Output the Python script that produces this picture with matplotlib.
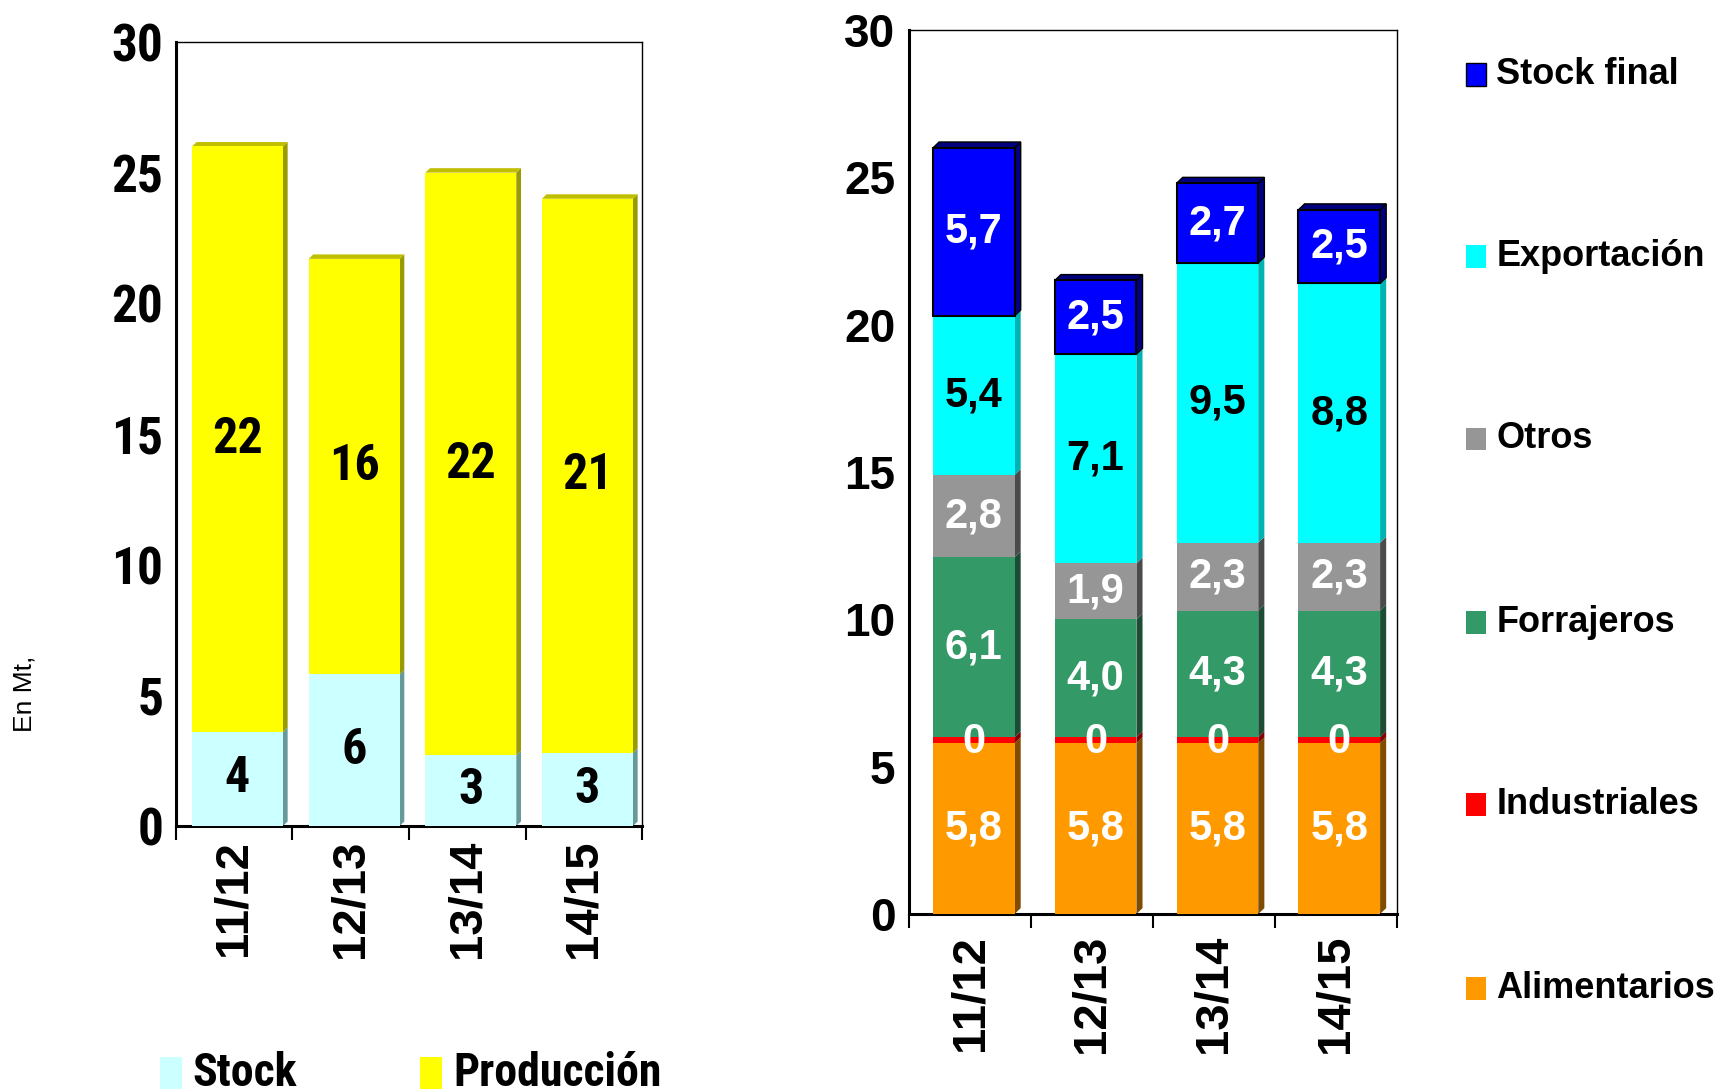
import matplotlib
matplotlib.use("Agg")
import matplotlib.pyplot as plt
from matplotlib.patches import Polygon, Rectangle
from matplotlib import font_manager
from matplotlib.font_manager import FontProperties

# datos
campanias = ['11/12', '12/13', '13/14', '14/15']

stock = [3.6, 5.8, 2.7, 2.8]
produccion = [22.4, 15.9, 22.3, 21.2]

alimentarios = [5.8, 5.8, 5.8, 5.8]
industriales = [0.2, 0.2, 0.2, 0.2]
forrajeros = [6.1, 4.0, 4.3, 4.3]
otros = [2.8, 1.9, 2.3, 2.3]
exportacion = [5.4, 7.1, 9.5, 8.8]
stock_final = [5.7, 2.5, 2.7, 2.5]

nombres_der = ['Alimentarios', 'Industriales', 'Forrajeros', 'Otros', 'Exportación', 'Stock final']

# fuentes: buscar alguna bold angosta, si no hay se achica el tamanio
WIDE = 'Liberation Sans'


def es_bold(f):
    w = f.weight
    return w == 'bold' or w == 700 or w == '700'


angostas = []
for f in font_manager.fontManager.ttflist:
    nombre = f.name.lower()
    if es_bold(f) and ('narrow' in nombre or 'condensed' in nombre or 'condensed' in str(f.stretch)):
        angostas.append(f)
orden = ['liberation sans narrow', 'roboto condensed', 'dejavu sans condensed', 'open sans condensed']
angostas.sort(key=lambda f: next((i for i, o in enumerate(orden) if o in f.name.lower() or o in f.fname.lower()), 99))
if angostas:
    NARROW = FontProperties(fname=angostas[0].fname)
    esc = 1.0
else:
    NARROW = FontProperties(family=WIDE, weight='bold')
    esc = 0.82


def narrow(size):
    p = NARROW.copy()
    p.set_size(size * esc if esc < 1 else size)
    return p


def barra3d(ax, x, base, alto, ancho, color, lado, techo, dx, dy, borde=None, con_techo=False):
    x0 = x - ancho / 2
    x1 = x + ancho / 2
    ax.add_patch(Polygon([(x1, base), (x1 + dx, base + dy), (x1 + dx, base + alto + dy), (x1, base + alto)],
                         closed=True, facecolor=lado, edgecolor=borde if borde else 'none', lw=1, zorder=2))
    if con_techo:
        ax.add_patch(Polygon([(x0, base + alto), (x0 + dx, base + alto + dy), (x1 + dx, base + alto + dy), (x1, base + alto)],
                             closed=True, facecolor=techo, edgecolor=borde if borde else 'none', lw=1, zorder=2))
    ax.bar(x, alto, ancho, bottom=base, color=color, edgecolor=borde if borde else 'none',
           linewidth=1.5 if borde else 0, zorder=3)


fig = plt.figure(figsize=(17.22, 10.92), dpi=100)

# ---------------- grafico izquierdo
ax1 = fig.add_axes([0.102, 0.2436, 0.271, 0.718])
pos = list(range(len(campanias)))
for i in pos:
    barra3d(ax1, i + 0.03, 0, stock[i], 0.78, '#CCFFFF', '#669999', '#99CCCC', 0.04, 0.17)
    barra3d(ax1, i + 0.03, stock[i], produccion[i], 0.78, '#FFFF00', '#999900', '#BFBF00', 0.04, 0.17, con_techo=True)
    ax1.text(i + 0.03, stock[i] / 2, f'{stock[i]:.0f}', ha='center', va='center',
             fontproperties=narrow(36), color='black', zorder=5)
    ax1.text(i + 0.03, stock[i] + produccion[i] / 2, f'{produccion[i]:.0f}', ha='center', va='center',
             fontproperties=narrow(36), color='black', zorder=5)

ax1.set_xlim(-0.5, 3.5)
ax1.set_ylim(0, 30)
ax1.set_yticks([0, 5, 10, 15, 20, 25, 30])
ax1.set_yticklabels([str(v) for v in [0, 5, 10, 15, 20, 25, 30]], fontproperties=narrow(37))
ax1.set_xticks(pos)
ax1.set_xticklabels(campanias, rotation=90, fontsize=34, fontweight='bold', family=WIDE, va='top')
ax1.set_xticks([-0.5, 0.5, 1.5, 2.5, 3.5], minor=True)
ax1.tick_params(axis='x', which='major', length=0, pad=10)
ax1.tick_params(axis='x', which='minor', length=10, width=1.5, direction='out')
ax1.tick_params(axis='y', length=0, pad=9)
for s in ['left', 'bottom']:
    ax1.spines[s].set_linewidth(2.2)
for s in ['top', 'right']:
    ax1.spines[s].set_linewidth(1.0)

fig.text(0.014, 0.365, 'En Mt,', rotation=90, fontsize=19, family=WIDE, ha='center', va='center')

# leyenda izquierda
fig.patches.append(Rectangle((0.093, 0.003), 0.0128, 0.029, transform=fig.transFigure, facecolor='#CCFFFF', edgecolor='none'))
fig.text(0.112, 0.017, 'Stock', fontproperties=narrow(33), va='center', ha='left')
fig.patches.append(Rectangle((0.244, 0.003), 0.0128, 0.029, transform=fig.transFigure, facecolor='#FFFF00', edgecolor='none'))
fig.text(0.263, 0.017, 'Producción', fontproperties=narrow(33), va='center', ha='left')

# ---------------- grafico derecho
ax2 = fig.add_axes([0.528, 0.163, 0.283, 0.8095])
series = [alimentarios, industriales, forrajeros, otros, exportacion, stock_final]
colores = ['#FF9900', '#FF0000', '#339966', '#969696', '#00FFFF', '#0000FF']
lados = ['#7F4C00', '#800000', '#1A4D33', '#4B4B4B', '#00B3B3', '#000080']
color_txt = ['white', 'white', 'white', 'white', 'black', 'white']

for i in pos:
    base = 0
    for k, serie in enumerate(series):
        ultimo = k == len(series) - 1
        barra3d(ax2, i + 0.03, base, serie[i], 0.67, colores[k], lados[k], '#00007F', 0.05, 0.2,
                borde='black' if ultimo else None, con_techo=ultimo)
        etiqueta = f'{serie[i]:.0f}' if k == 1 else f'{serie[i]:.1f}'.replace('.', ',')
        ax2.text(i + 0.03, base + serie[i] / 2 - (0.05 if k == 1 else 0), etiqueta, ha='center', va='center',
                 fontsize=30, fontweight='bold', family=WIDE, color=color_txt[k], zorder=5)
        base += serie[i]

ax2.set_xlim(-0.5, 3.5)
ax2.set_ylim(0, 30)
ax2.set_yticks([0, 5, 10, 15, 20, 25, 30])
ax2.set_xticks(pos)
ax2.set_xticklabels(campanias, rotation=90, fontsize=34, fontweight='bold', family=WIDE, va='top')
ax2.set_xticks([-0.5, 0.5, 1.5, 2.5, 3.5], minor=True)
ax2.tick_params(axis='x', which='major', length=0, pad=15)
ax2.tick_params(axis='x', which='minor', length=10, width=1.5, direction='out')
ax2.tick_params(axis='y', length=0, pad=10)
for t in ax2.get_yticklabels():
    t.set_fontsize(33)
    t.set_fontweight('bold')
    t.set_family(WIDE)
for s in ['left', 'bottom']:
    ax2.spines[s].set_linewidth(2.2)
for s in ['top', 'right']:
    ax2.spines[s].set_linewidth(1.0)

# leyenda derecha (de arriba hacia abajo)
y_leg = [0.932, 0.765, 0.598, 0.430, 0.263, 0.095]
for j, k in enumerate(reversed(range(len(nombres_der)))):
    fig.patches.append(Rectangle((0.8515, y_leg[j] - 0.0105), 0.0115, 0.021, transform=fig.transFigure,
                                 facecolor=colores[k], edgecolor='black' if k == 5 else 'none', lw=1))
    fig.text(0.869, y_leg[j], nombres_der[k], fontsize=26, fontweight='bold', family=WIDE, va='center', ha='left')

fig.savefig('out.png', dpi=100)
